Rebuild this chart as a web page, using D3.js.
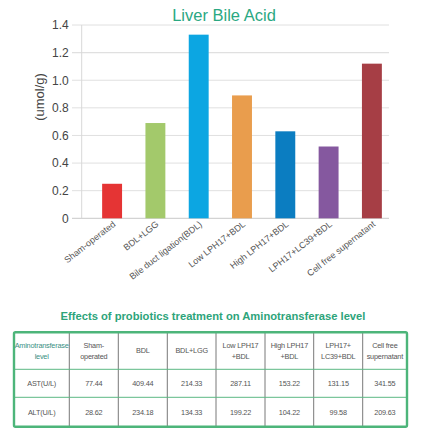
<!DOCTYPE html>
<html><head><meta charset="utf-8">
<script src="https://cdn.jsdelivr.net/npm/d3@7"></script>
<style>
html,body{margin:0;padding:0;background:#fff;}
svg{display:block;}
</style></head>
<body>
<svg id="c" width="432" height="442"></svg>
<script>
const categories = ["Sham-operated","BDL+LGG","Bile duct ligation(BDL)","Low LPH17+BDL","High LPH17+BDL","LPH17+LC39+BDL","Cell free supernatant"];
const bileValues = [0.25,0.69,1.33,0.89,0.63,0.52,1.12];
const barColors = ["#e53434","#a3c96b","#0ca6e2","#e99d4d","#0b7dc1","#85589f","#a63e45"];
const yTicks = [0,0.2,0.4,0.6,0.8,1.0,1.2,1.4];
const tableHeaders = [["Aminotransferase","level"],["Sham-","operated"],["BDL"],["BDL+LGG"],["Low LPH17","+BDL"],["High LPH17","+BDL"],["LPH17+","LC39+BDL"],["Cell free","supernatant"]];
const astValues = ["AST(U/L)","77.44","409.44","214.33","287.11","153.22","131.15","341.55"];
const altValues = ["ALT(U/L)","28.62","234.18","134.33","199.22","104.22","99.58","209.63"];

const svg = d3.select("#c");
const green = "#2da47a";

// chart
const y = d3.scaleLinear().domain([0,1.4]).range([218.3,25]);
const x = d3.scaleBand().domain(categories).range([88.5,395.5]).paddingInner(0.54).paddingOuter(0.315);
const axL = 81.7, axR = 389;

svg.append("text").attr("x",224).attr("y",21).attr("text-anchor","middle")
  .attr("font-family","Liberation Sans, Arial, sans-serif").attr("font-size",16.5)
  .attr("fill","#2aa882").text("Liver Bile Acid");

const grid = svg.append("g");
yTicks.forEach(t=>{
  grid.append("line").attr("x1",72).attr("x2",axR).attr("y1",y(t)).attr("y2",y(t))
    .attr("stroke", t===0 ? "#c8c8c8" : "#e0e0e0").attr("stroke-width", t===1.2?1.4:1);
});
grid.append("line").attr("x1",axL).attr("x2",axL).attr("y1",y(1.4)).attr("y2",y(0))
  .attr("stroke","#d8d8d8");

const yAxis = svg.append("g").attr("transform",`translate(${axL-13},0)`)
  .call(d3.axisLeft(y).tickValues(yTicks).tickSize(0).tickPadding(0)
    .tickFormat(d=> d===0 ? "0" : d3.format(".1f")(d)));
yAxis.select(".domain").remove();
yAxis.selectAll("text").attr("font-family","Liberation Sans, Arial, sans-serif")
  .attr("font-size",12).attr("fill","#444");

svg.append("text").attr("transform","translate(44,97) rotate(-90)").attr("text-anchor","middle")
  .attr("font-family","Liberation Sans, Arial, sans-serif").attr("font-size",13).attr("fill","#444")
  .text("(umol/g)");

svg.append("g").selectAll("rect").data(categories).join("rect")
  .attr("x",d=>x(d)).attr("width",x.bandwidth())
  .attr("y",(d,i)=>y(bileValues[i])).attr("height",(d,i)=>y(0)-y(bileValues[i]))
  .attr("fill",(d,i)=>barColors[i]);

const xAxis = svg.append("g").attr("transform",`translate(0,${y(0)})`)
  .call(d3.axisBottom(x).tickSize(0).tickPadding(0));
xAxis.select(".domain").remove();
xAxis.selectAll("text").attr("font-family","Liberation Sans Narrow, Liberation Sans, Arial, sans-serif")
  .attr("font-size",9).attr("fill","#555").attr("text-anchor","end")
  .attr("dy",0).attr("transform","translate(4,7) rotate(-38)");

// table
svg.append("text").attr("x",213).attr("y",320).attr("text-anchor","middle")
  .attr("font-family","Liberation Sans, Arial, sans-serif").attr("font-size",11.2).attr("font-weight","bold")
  .attr("fill",green).text("Effects of probiotics treatment on Aminotransferase level");

const colX = [14,69.3,118.3,167.3,216,265,313.7,362.7,407];
const rowY = [332.3,369.3,397.3,426.7];
const tg = svg.append("g");
for(let i=1;i<colX.length-1;i++){
  tg.append("line").attr("x1",colX[i]).attr("x2",colX[i]).attr("y1",rowY[0]).attr("y2",rowY[3])
    .attr("stroke","#555").attr("stroke-width",0.8);
}
for(let j=1;j<rowY.length-1;j++){
  tg.append("line").attr("x1",colX[0]).attr("x2",colX[8]).attr("y1",rowY[j]).attr("y2",rowY[j])
    .attr("stroke","#5cb884").attr("stroke-width",1);
}
tg.append("rect").attr("x",colX[0]).attr("y",rowY[0]).attr("width",colX[8]-colX[0]).attr("height",rowY[3]-rowY[0])
  .attr("fill","none").attr("stroke","#4db57a").attr("stroke-width",2.4).attr("rx",1.5);

const ff = "Liberation Sans Narrow, Arial Narrow, Liberation Sans, sans-serif";
tableHeaders.forEach((lines,i)=>{
  const cx = (colX[i]+colX[i+1])/2;
  const cy = (rowY[0]+rowY[1])/2;
  const t = tg.append("text").attr("x",cx).attr("text-anchor","middle")
    .attr("font-family",ff).attr("font-size",7.3).attr("fill", i===0 ? "#3a8f84" : "#555")
    .attr("letter-spacing",-0.2);
  lines.forEach((l,k)=>{
    t.append("tspan").attr("x",cx).attr("y",cy + 2.5 + (k-(lines.length-1)/2)*10.5).text(l);
  });
});
[astValues,altValues].forEach((row,r)=>{
  const cy = (rowY[r+1]+rowY[r+2])/2 + 2.5;
  row.forEach((v,i)=>{
    tg.append("text").attr("x",(colX[i]+colX[i+1])/2).attr("y",cy).attr("text-anchor","middle")
      .attr("font-family",ff).attr("font-size",7.3).attr("fill","#555").attr("letter-spacing",-0.2).text(v);
  });
});
</script>
</body></html>
